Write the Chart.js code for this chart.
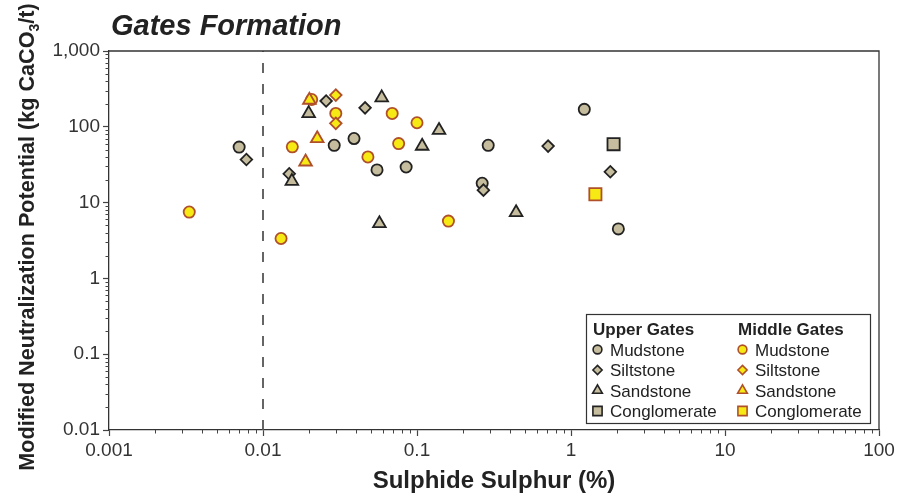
<!DOCTYPE html>
<html>
<head>
<meta charset="utf-8">
<script src="https://cdn.jsdelivr.net/npm/chart.js@4.4.1/dist/chart.umd.min.js"></script>
<style>
html,body{margin:0;padding:0;background:#fff;}
#wrap{width:919px;height:500px;position:relative;}
</style>
</head>
<body>
<div id="wrap"><canvas id="c" width="919" height="500"></canvas></div>
<script>
// ---- data (x = sulphide sulphur %, y = MNP kg CaCO3/t) ----
const upperMudstone = [[0.0070,54],[0.029,57],[0.039,70],[0.055,27],[0.085,29.5],[0.29,57],[0.265,18],[1.22,170],[2.03,4.5]];
const upperSiltstone = [[0.0078,37],[0.0148,24],[0.0257,219],[0.046,178],[0.27,14.6],[0.71,55.6],[1.80,25.5]];
const upperSandstone = [[0.0198,150],[0.059,242],[0.139,90],[0.108,55.6],[0.0154,19.2],[0.057,5.3],[0.44,7.4]];
const upperConglomerate = [[1.89,59]];
const middleMudstone = [[0.00332,7.5],[0.0131,3.36],[0.0207,229],[0.0297,150],[0.069,150],[0.100,113],[0.0155,54.4],[0.076,60],[0.048,40],[0.160,5.7]];
const middleSiltstone = [[0.0297,262],[0.0297,111]];
const middleSandstone = [[0.020,225],[0.0225,70],[0.0189,34.5]];
const middleConglomerate = [[1.44,12.9]];
const thresholdX = 0.01;

const xTicks = [0.001,0.01,0.1,1,10,100];
const xTickLabels = ['0.001','0.01','0.1','1','10','100'];
const yTicks = [0.01,0.1,1,10,100,1000];
const yTickLabels = ['0.01','0.1','1','10','100','1,000'];

const legendGroups = ['Upper Gates','Middle Gates'];
const legendRocks = ['Mudstone','Siltstone','Sandstone','Conglomerate'];

// ---- styles ----
const FONT = "'Liberation Sans', Arial, Helvetica, sans-serif";
const UP_FILL = '#c5bd9d', UP_LINE = '#222222';
const MID_FILL = '#f6e914', MID_LINE = '#b0502a';
const styleOf = {Mudstone:{ps:'circle',r:5.6,lr:4.4},Siltstone:{ps:'rectRot',r:5.8,lr:4.6},Sandstone:{ps:'triangle',r:7.3,lr:5.6},Conglomerate:{ps:'rect',r:8.6,lr:6.5}};

const toPts = a => a.map(p => ({x:p[0], y:p[1]}));
function ds(label, data, rock, upper){
  const s = styleOf[rock];
  return {type:'scatter', label, data:toPts(data), pointStyle:s.ps, pointRadius:s.r, pointHoverRadius:s.r,
    pointBackgroundColor: upper?UP_FILL:MID_FILL, pointBorderColor: upper?UP_LINE:MID_LINE,
    pointBorderWidth:1.8, showLine:false};
}
const datasets = [
  ds('Middle Sandstone', middleSandstone, 'Sandstone', false),
  ds('Upper Sandstone', upperSandstone, 'Sandstone', true),
  ds('Middle Siltstone', middleSiltstone, 'Siltstone', false),
  ds('Upper Siltstone', upperSiltstone, 'Siltstone', true),
  ds('Middle Mudstone', middleMudstone, 'Mudstone', false),
  ds('Upper Mudstone', upperMudstone, 'Mudstone', true),
  ds('Upper Conglomerate', upperConglomerate, 'Conglomerate', true),
  ds('Middle Conglomerate', middleConglomerate, 'Conglomerate', false),
  {type:'line', label:'threshold', data:[{x:thresholdX,y:yTicks[0]},{x:thresholdX,y:yTicks[yTicks.length-1]}],
   borderColor:'#555', borderWidth:1.8, borderDash:[10,11], pointRadius:0, fill:false}
];

function drawMarker(ctx, ps, r, x, y, upper){
  ctx.fillStyle = upper?UP_FILL:MID_FILL;
  ctx.strokeStyle = upper?UP_LINE:MID_LINE;
  ctx.lineWidth = 1.6;
  Chart.helpers.drawPoint(ctx, {pointStyle:ps, radius:r, rotation:0, borderWidth:1.6}, x, y);
}

const deco = {
  id:'deco',
  afterDraw(chart){
    const {ctx, chartArea:a, scales:{x, y}} = chart;
    ctx.save();
    // frame top/right
    ctx.strokeStyle = '#333'; ctx.lineWidth = 1.3;
    ctx.beginPath(); ctx.moveTo(a.left, a.top); ctx.lineTo(a.right, a.top); ctx.lineTo(a.right, a.bottom); ctx.stroke();
    // minor ticks
    ctx.strokeStyle = '#444'; ctx.lineWidth = 1;
    ctx.beginPath();
    for (let i = 0; i < xTicks.length-1; i++) for (let k = 2; k <= 9; k++){
      const px = Math.round(x.getPixelForValue(xTicks[i]*k)) + 0.5;
      ctx.moveTo(px, a.bottom); ctx.lineTo(px, a.bottom + 3.5);
    }
    for (let i = 0; i < yTicks.length-1; i++) for (let k = 2; k <= 9; k++){
      const py = Math.round(y.getPixelForValue(yTicks[i]*k)) + 0.5;
      ctx.moveTo(a.left - 3.5, py); ctx.lineTo(a.left, py);
    }
    ctx.stroke();

    // chart title
    ctx.fillStyle = '#222';
    ctx.textBaseline = 'alphabetic';
    ctx.textAlign = 'left';
    ctx.font = 'italic bold 29px ' + FONT;
    ctx.fillText('Gates Formation', 111, 35);

    // x title
    ctx.textAlign = 'center';
    ctx.font = 'bold 24px ' + FONT;
    ctx.fillText('Sulphide Sulphur (%)', (a.left + a.right)/2, 488);

    // y title with subscript
    ctx.save();
    ctx.translate(34, 237);
    ctx.rotate(-Math.PI/2);
    ctx.textAlign = 'left';
    const p1 = 'Modified Neutralization Potential (kg CaCO', p2 = '3', p3 = '/t)';
    const fMain = 'bold 21.6px ' + FONT, fSub = 'bold 14px ' + FONT;
    ctx.font = fMain; const w1 = ctx.measureText(p1).width, w3 = ctx.measureText(p3).width;
    ctx.font = fSub; const w2 = ctx.measureText(p2).width;
    let sx = -(w1 + w2 + w3)/2;
    ctx.font = fMain; ctx.fillText(p1, sx, 0); sx += w1;
    ctx.font = fSub; ctx.fillText(p2, sx, 5); sx += w2;
    ctx.font = fMain; ctx.fillText(p3, sx, 0);
    ctx.restore();

    // legend
    ctx.fillStyle = '#fff';
    ctx.fillRect(586.5, 314.5, 284, 109);
    ctx.strokeStyle = '#333'; ctx.lineWidth = 1.2;
    ctx.strokeRect(586.5, 314.5, 284, 109);
    const colX = [593, 738];
    ctx.textAlign = 'left';
    ctx.textBaseline = 'alphabetic';
    legendGroups.forEach((g, gi) => {
      ctx.fillStyle = '#222';
      ctx.font = 'bold 17px ' + FONT;
      ctx.fillText(g, colX[gi], 335);
      legendRocks.forEach((rk, ri) => {
        const by = 355.5 + ri*20.5;
        const s = styleOf[rk];
        drawMarker(ctx, s.ps, s.lr, colX[gi] + 4.5, by - 6, gi === 0);
        ctx.fillStyle = '#222';
        ctx.font = '17px ' + FONT;
        ctx.fillText(rk, colX[gi] + 17, by);
      });
    });
    ctx.restore();
  }
};

new Chart(document.getElementById('c'), {
  type:'scatter',
  data:{datasets},
  plugins:[deco],
  options:{
    responsive:false, animation:false, devicePixelRatio:1,
    layout:{padding:{top:51, right:40, left:0, bottom:0}},
    plugins:{legend:{display:false}, tooltip:{enabled:false}, title:{display:false}},
    scales:{
      x:{type:'logarithmic', position:'bottom', min:xTicks[0], max:xTicks[xTicks.length-1],
        afterBuildTicks(s){ s.ticks = xTicks.map(v => ({value:v})); },
        afterFit(s){ s.height = 70; },
        ticks:{autoSkip:false, maxRotation:0, padding:3, color:'#333', font:{family:FONT, size:19},
          callback:(v, i) => xTickLabels[xTicks.indexOf(v)] ?? ''},
        grid:{drawOnChartArea:false, drawTicks:true, tickLength:6, tickColor:'#444', tickWidth:1.2},
        border:{display:true, color:'#333', width:1.3}},
      y:{type:'logarithmic', position:'left', min:yTicks[0], max:yTicks[yTicks.length-1],
        afterBuildTicks(s){ s.ticks = yTicks.map(v => ({value:v})); },
        afterFit(s){ s.width = 109; },
        ticks:{autoSkip:false, padding:3, color:'#333', font:{family:FONT, size:19},
          callback:(v, i) => yTickLabels[yTicks.indexOf(v)] ?? ''},
        grid:{drawOnChartArea:false, drawTicks:true, tickLength:6, tickColor:'#444', tickWidth:1.2},
        border:{display:true, color:'#333', width:1.3}}
    }
  }
});
</script>
</body>
</html>
